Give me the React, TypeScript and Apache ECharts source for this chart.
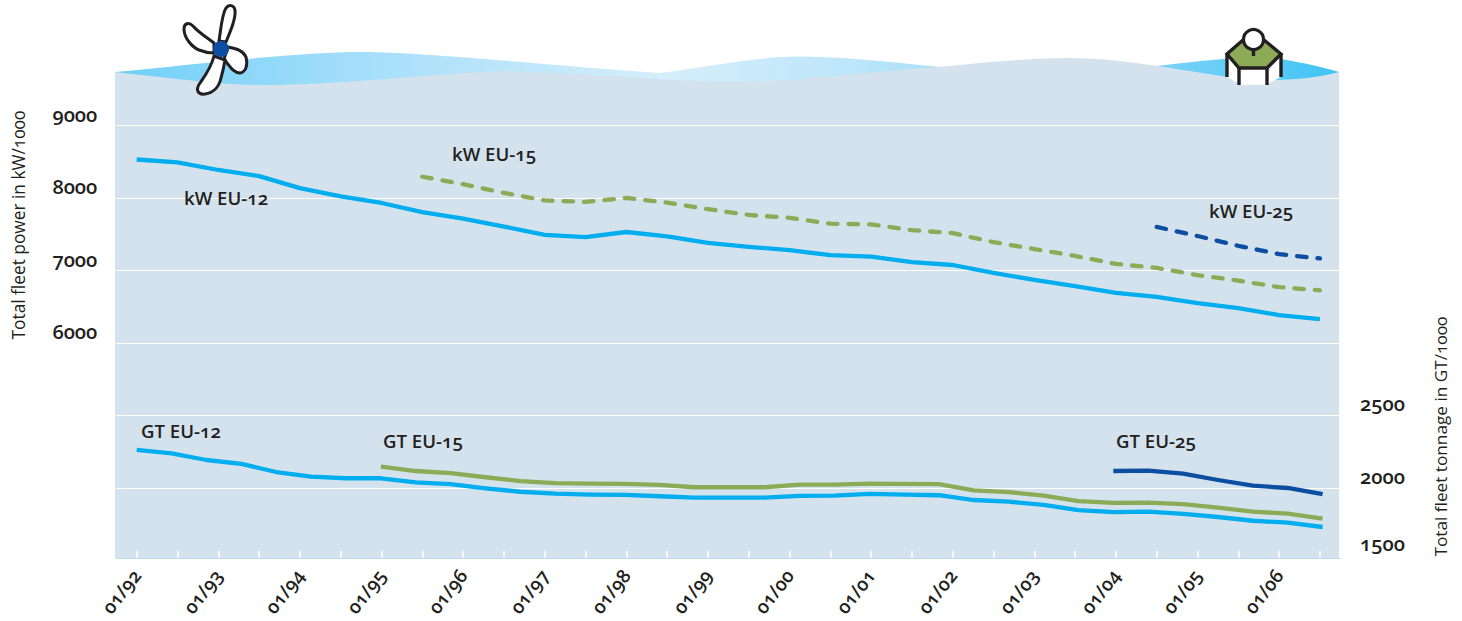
import React, { useEffect, useRef } from "react";
import * as echarts from "echarts";

const years = ["92", "93", "94", "95", "96", "97", "98", "99", "00", "01", "02", "03", "04", "05", "06"];
const kwCategories = years.flatMap((y) => ["01/" + y, "07/" + y]);
const gtCategories = Array.from({ length: 35 }, (_, i) => "p" + i);

const kwEu12 = [8530, 8490, 8385, 8300, 8135, 8020, 7930, 7805, 7715, 7605, 7490, 7460, 7530, 7470, 7380, 7325, 7280, 7210, 7190, 7115, 7075, 6965, 6870, 6785, 6690, 6635, 6550, 6480, 6385, 6330];
const kwEu15 = [null, null, null, null, null, null, null, 8292, 8190, 8070, 7965, 7945, 8000, 7935, 7845, 7765, 7725, 7645, 7635, 7555, 7515, 7390, 7295, 7200, 7090, 7035, 6935, 6860, 6770, 6725];
const kwEu25 = [...Array(25).fill(null), 7600, 7475, 7340, 7225, 7165];
const gtEu12 = [2262, 2239, 2193, 2166, 2110, 2078, 2067, 2067, 2039, 2026, 1998, 1974, 1961, 1954, 1952, 1943, 1933, 1933, 1933, 1945, 1947, 1959, 1954, 1950, 1917, 1906, 1883, 1848, 1834, 1837, 1821, 1800, 1774, 1761, 1731];
const gtEu15 = [...Array(7).fill(null), 2147, 2117, 2103, 2074, 2048, 2034, 2030, 2028, 2021, 2005, 2005, 2005, 2023, 2023, 2030, 2028, 2026, 1984, 1972, 1947, 1910, 1897, 1899, 1888, 1864, 1837, 1823, 1788];
const gtEu25 = [...Array(28).fill(null), 2117, 2119, 2099, 2055, 2016, 2000, 1957];

const kwTickLabels = [6000, 7000, 8000, 9000];
const gtTickLabels = [1500, 2000, 2500];

const FONT = "'Open Sans', 'Noto Sans', sans-serif";
const INK = "#231f20";
const CYAN = "#00aeef";
const GREEN = "#8dab57";
const NAVY = "#0b4ea2";
const WATER = "#d4e2ed";

const WAVE_BACK = "M115 72 C200 64 300 52 362 52 C420 52 560 66 660 73 C700 68 760 56 800 56.5 C850 57 900 63 940 67 L1157 66 C1190 62 1230 58 1262 56 C1290 60 1320 66 1339 72 L1339 100 L115 100 Z";
const WAVE_FRONT = "M115 72 C170 78 220 85 263 85 C340 85 430 74 500 71 C580 73 680 82 745 82 C800 81 880 71 937 67 C980 63 1030 58 1068 58 C1100 58 1130 62 1157 66 C1190 71 1220 76 1245 79 C1290 82 1320 77 1339 72 L1339 558 L115 558 Z";
const BLADE_UP = "M219 41 C221 28 222 14 226 8 C229 4 234 5 235 10 C236 18 231 30 226 42 Z";
const BLADE_LEFT = "M214 43 C206 37 198 32 193 26 C189 22 184 23 184 29 C184 38 192 47 199 50 C204 52 210 53 214 53 Z";
const BLADE_RIGHT = "M228 47 C236 49 243 50 246 57 C248 65 246 72 240 73 C233 73 229 65 224 59 Z";
const BLADE_DOWN = "M214 56 C211 68 205 76 200 83 C195 90 198 95 205 94 C213 93 219 87 221 78 C223 71 224 66 225 60 Z";

echarts.graphic.registerShape("waveBack", echarts.graphic.extendPath(WAVE_BACK, {}));
echarts.graphic.registerShape("waveFront", echarts.graphic.extendPath(WAVE_FRONT, {}));
echarts.graphic.registerShape("bladeUp", echarts.graphic.extendPath(BLADE_UP, {}));
echarts.graphic.registerShape("bladeLeft", echarts.graphic.extendPath(BLADE_LEFT, {}));
echarts.graphic.registerShape("bladeRight", echarts.graphic.extendPath(BLADE_RIGHT, {}));
echarts.graphic.registerShape("bladeDown", echarts.graphic.extendPath(BLADE_DOWN, {}));

const label = (text: string, x: number, y: number) => ({
  type: "text", x, y, z: 20,
  style: { text, fill: INK, font: `600 18.6px ${FONT}`, textVerticalAlign: "middle" },
});
const blade = (type: string) => ({
  type, z: 15,
  style: { fill: "#fff", stroke: INK, lineWidth: 3 },
});
const seg = (x1: number, y1: number, x2: number, y2: number) => ({
  type: "line", z: 16,
  shape: { x1, y1, x2, y2 },
  style: { stroke: INK, lineWidth: 3.4 },
});
const lineSeries = (name: string, data: any[], color: string, dashed: boolean, gt: boolean) => ({
  name,
  type: "line",
  data,
  xAxisIndex: gt ? 1 : 0,
  yAxisIndex: gt ? 1 : 0,
  symbol: "none",
  connectNulls: false,
  z: 5,
  lineStyle: {
    color,
    width: 4.3,
    type: dashed ? [9.5, 11] : "solid",
    cap: dashed ? "round" : "butt",
    join: "round",
  },
});

export default function App() {
  const ref = useRef<HTMLDivElement>(null);
  useEffect(() => {
    const chart = echarts.init(ref.current!, undefined, { renderer: "svg" });
    chart.setOption({
      animation: false,
      backgroundColor: "#fff",
      textStyle: { fontFamily: FONT },
      grid: [
        { left: 116.3, width: 1224, top: 125.4, bottom: 60.5, outerBoundsMode: "none" },
        { left: 136.7, right: 139.4, top: 125.4, bottom: 60.5, outerBoundsMode: "none" },
      ],
      xAxis: [
        {
          type: "category",
          gridIndex: 0,
          data: kwCategories,
          boundaryGap: true,
          offset: -2.7,
          axisLine: { lineStyle: { color: "#bcdcec", width: 1 } },
          axisTick: { show: true, inside: true, length: 7, alignWithLabel: true, interval: 0, lineStyle: { color: "#fff", width: 1.5 } },
          axisLabel: { interval: 1, rotate: 52, margin: 14, color: INK, fontSize: 19, fontWeight: 600, fontFamily: FONT },
          splitLine: { show: false },
        },
        { type: "category", gridIndex: 1, data: gtCategories, boundaryGap: false, show: false },
      ],
      yAxis: [
        {
          type: "value",
          gridIndex: 0,
          position: "left",
          min: 3000,
          max: 9000,
          interval: 1000,
          axisLine: { show: false },
          axisTick: { show: false },
          splitLine: { show: true, lineStyle: { color: "#fff", width: 1 } },
          axisLabel: {
            margin: 19,
            color: INK,
            fontSize: 20,
            fontWeight: 600,
            fontFamily: FONT,
            verticalAlign: "bottom",
            padding: [0, 0, 1, 0],
            formatter: (v: number) => (kwTickLabels.includes(v) ? String(v) : ""),
          },
        },
        {
          type: "value",
          gridIndex: 1,
          position: "right",
          min: 1500,
          max: 4500,
          interval: 500,
          axisLine: { show: false },
          axisTick: { show: false },
          splitLine: { show: false },
          axisLabel: {
            margin: 37.4,
            color: INK,
            fontSize: 20,
            fontWeight: 600,
            fontFamily: FONT,
            verticalAlign: "bottom",
            padding: [0, 0, 1.5, 0],
            formatter: (v: number) => (gtTickLabels.includes(v) ? (v === 1500 ? `{low|${v}}` : String(v)) : ""),
            rich: { low: { fontSize: 20, fontWeight: 600, fontFamily: FONT, color: INK, padding: [0, 0, 6, 0] } },
          },
        },
      ],
      graphic: [
        {
          type: "waveBack", z: -20, silent: true,
          style: {
            fill: {
              type: "linear", x: 0, y: 0, x2: 1, y2: 0,
              colorStops: [
                { offset: 0, color: "#6fd0f7" },
                { offset: 0.2, color: "#a5defa" },
                { offset: 0.45, color: "#d5eefb" },
                { offset: 0.6, color: "#bde6fa" },
                { offset: 0.85, color: "#7bd3f7" },
                { offset: 1, color: "#40c4f5" },
              ],
            },
          },
        },
        { type: "waveFront", z: -10, silent: true, style: { fill: WATER } },
        label("kW EU-12", 184, 197.5),
        label("kW EU-15", 452, 153.5),
        label("kW EU-25", 1209, 210.5),
        label("GT EU-12", 141, 430.5),
        label("GT EU-15", 383, 440.5),
        label("GT EU-25", 1116, 440.5),
        {
          type: "text", x: 18, y: 225, rotation: Math.PI / 2, z: 20,
          style: { text: "Total fleet power in kW/1000", fill: INK, font: `500 17.3px ${FONT}`, textAlign: "center", textVerticalAlign: "middle" },
        },
        {
          type: "text", x: 1440, y: 436.5, rotation: Math.PI / 2, z: 20,
          style: { text: "Total fleet tonnage in GT/1000", fill: INK, font: `500 17.2px ${FONT}`, textAlign: "center", textVerticalAlign: "middle" },
        },
        blade("bladeUp"),
        blade("bladeLeft"),
        blade("bladeRight"),
        blade("bladeDown"),
        { type: "circle", z: 16, shape: { cx: 221, cy: 49, r: 8 }, style: { fill: NAVY } },
        {
          type: "polygon", z: 14,
          shape: { points: [[1227, 54], [1239, 68], [1267, 68], [1281, 54], [1281, 77], [1266, 85], [1241, 85], [1227, 77]] },
          style: { fill: "#fff" },
        },
        {
          type: "polygon", z: 15,
          shape: { points: [[1243, 40], [1227, 54], [1239, 68], [1267, 68], [1281, 54], [1264, 40]] },
          style: { fill: GREEN, stroke: INK, lineWidth: 3.4 },
        },
        seg(1227, 54, 1227, 77),
        seg(1239, 68, 1239, 85),
        seg(1267, 68, 1267, 85),
        seg(1281, 54, 1281, 77),
        seg(1253.5, 49, 1253.5, 56),
        { type: "circle", z: 17, shape: { cx: 1253.5, cy: 39.5, r: 10 }, style: { fill: "#fff", stroke: INK, lineWidth: 3.2 } },
      ],
      series: [
        lineSeries("kW EU-12", kwEu12, CYAN, false, false),
        lineSeries("kW EU-15", kwEu15, GREEN, true, false),
        lineSeries("kW EU-25", kwEu25, NAVY, true, false),
        lineSeries("GT EU-12", gtEu12, CYAN, false, true),
        lineSeries("GT EU-15", gtEu15, GREEN, false, true),
        lineSeries("GT EU-25", gtEu25, NAVY, false, true),
      ],
    });
    return () => chart.dispose();
  }, []);
  return (
    <>
      <style>{`svg text { font-feature-settings: "onum" 1 !important; font-variant-numeric: oldstyle-nums !important; }`}</style>
      <div ref={ref} style={{ position: "absolute", left: 0, top: 0, width: 1462, height: 621 }} />
    </>
  );
}
